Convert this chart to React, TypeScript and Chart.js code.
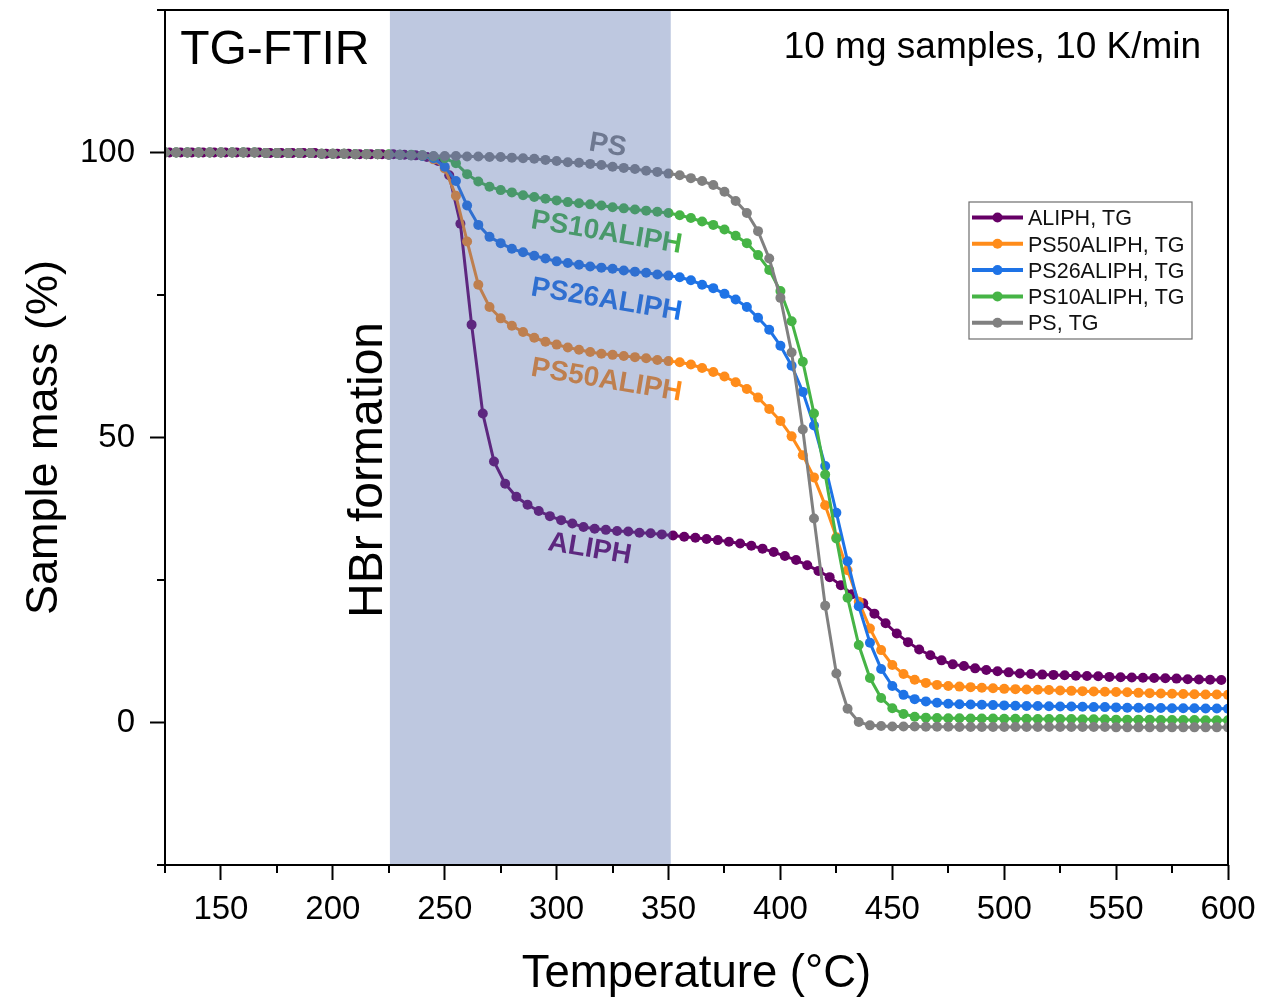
import React, { useEffect, useRef } from 'react';
import { Chart, registerables } from 'chart.js';

Chart.register(...registerables);

// ---------- data ----------
const TEMPS = [
  125, 130, 135, 140, 145, 150, 155, 160, 165, 170,
  175, 180, 185, 190, 195, 200, 205, 210, 215, 220,
  225, 230, 235, 240, 245, 250, 255, 260, 265, 270,
  275, 280, 285, 290, 295, 300, 305, 310, 315, 320,
  325, 330, 335, 340, 345, 350, 355, 360, 365, 370,
  375, 380, 385, 390, 395, 400, 405, 410, 415, 420,
  425, 430, 435, 440, 445, 450, 455, 460, 465, 470,
  475, 480, 485, 490, 495, 500, 505, 510, 515, 520,
  525, 530, 535, 540, 545, 550, 555, 560, 565, 570,
  575, 580, 585, 590, 595, 600,
];

const ALIPH_TEMPS = [
  127, 132, 137, 142, 147, 152, 157, 162, 167, 172,
  177, 182, 187, 192, 197, 202, 207, 212, 217, 222,
  227, 232, 237, 242, 247, 252, 257, 262, 267, 272,
  277, 282, 287, 292, 297, 302, 307, 312, 317, 322,
  327, 332, 337, 342, 347, 352, 357, 362, 367, 372,
  377, 382, 387, 392, 397, 402, 407, 412, 417, 422,
  427, 432, 437, 442, 447, 452, 457, 462, 467, 472,
  477, 482, 487, 492, 497, 502, 507, 512, 517, 522,
  527, 532, 537, 542, 547, 552, 557, 562, 567, 572,
  577, 582, 587, 592, 597,
];

const ALIPH = [
  100, 100, 100, 100, 100, 100, 100, 100, 100, 99.9,
  99.9, 99.9, 99.9, 99.9, 99.8, 99.8, 99.8, 99.7, 99.7, 99.7,
  99.7, 99.6, 99.5, 99.2, 98.5, 96.0, 87.5, 69.8, 54.2, 45.8,
  41.9, 39.6, 38.2, 37.1, 36.2, 35.5, 34.9, 34.3, 34.0, 33.8,
  33.6, 33.5, 33.3, 33.2, 33.0, 32.8, 32.6, 32.4, 32.2, 32.0,
  31.7, 31.4, 31.0, 30.5, 29.9, 29.2, 28.5, 27.6, 26.6, 25.5,
  24.1, 22.5, 20.9, 19.1, 17.4, 15.6, 14.1, 12.8, 11.8, 10.9,
  10.2, 9.9, 9.5, 9.2, 9.0, 8.8, 8.6, 8.5, 8.4, 8.35,
  8.3, 8.2, 8.15, 8.1, 8.0, 7.95, 7.9, 7.85, 7.8, 7.75,
  7.7, 7.6, 7.55, 7.5, 7.45,
];

const PS50ALIPH = [
  100, 100, 100, 100, 100, 100, 100, 100, 100, 99.9,
  99.9, 99.9, 99.9, 99.9, 99.8, 99.8, 99.8, 99.7, 99.7, 99.7,
  99.6, 99.6, 99.5, 99.4, 98.8, 97.2, 92.4, 84.4, 76.8, 72.9,
  70.9, 69.6, 68.5, 67.5, 66.8, 66.3, 65.8, 65.4, 65.0, 64.7,
  64.5, 64.3, 64.1, 63.9, 63.6, 63.4, 63.2, 62.8, 62.2, 61.5,
  60.7, 59.7, 58.5, 57.0, 55.0, 52.9, 50.2, 46.9, 43.0, 38.1,
  32.5, 26.7, 21.2, 16.5, 12.7, 10.1, 8.5, 7.5, 6.95, 6.6,
  6.4, 6.3, 6.2, 6.1, 6.0, 5.9, 5.85, 5.8, 5.75, 5.7,
  5.6, 5.55, 5.5, 5.45, 5.4, 5.35, 5.3, 5.2, 5.15, 5.1,
  5.05, 5.0, 4.95, 4.9, 4.9, 4.85,
];

const PS26ALIPH = [
  100, 100, 100, 100, 100, 100, 100, 100, 100, 99.9,
  99.9, 99.9, 99.9, 99.9, 99.8, 99.8, 99.8, 99.7, 99.7, 99.7,
  99.6, 99.6, 99.5, 99.4, 99.0, 97.5, 95.0, 90.7, 87.3, 85.2,
  84.1, 83.1, 82.5, 81.9, 81.4, 80.9, 80.6, 80.3, 80.0, 79.8,
  79.6, 79.3, 79.1, 78.9, 78.6, 78.4, 78.1, 77.6, 76.8, 76.2,
  75.2, 74.2, 72.9, 71.0, 68.9, 66.1, 62.6, 58.0, 52.1, 45.0,
  36.8, 28.3, 20.4, 14.0, 9.4, 6.4, 4.85, 4.1, 3.7, 3.45,
  3.3, 3.2, 3.15, 3.1, 3.05, 3.0, 2.95, 2.9, 2.9, 2.85,
  2.8, 2.8, 2.75, 2.7, 2.7, 2.65, 2.6, 2.6, 2.55, 2.55,
  2.5, 2.5, 2.5, 2.45, 2.45, 2.4,
];

const PS10ALIPH = [
  100, 100, 100, 100, 100, 100, 100, 100, 100, 99.9,
  99.9, 99.9, 99.9, 99.9, 99.8, 99.8, 99.8, 99.7, 99.7, 99.7,
  99.7, 99.6, 99.6, 99.5, 99.3, 99.0, 98.1, 96.2, 94.9, 94.0,
  93.4, 93.0, 92.5, 92.2, 91.9, 91.6, 91.3, 91.1, 90.9, 90.7,
  90.4, 90.2, 90.0, 89.8, 89.6, 89.4, 89.0, 88.5, 87.9, 87.3,
  86.5, 85.4, 84.1, 82.0, 79.4, 75.7, 70.4, 63.3, 54.2, 43.5,
  32.3, 21.9, 13.6, 7.8, 4.3, 2.5, 1.5, 1.0, 0.85, 0.8,
  0.75, 0.75, 0.7, 0.7, 0.7, 0.65, 0.65, 0.65, 0.6, 0.6,
  0.6, 0.6, 0.55, 0.55, 0.55, 0.5, 0.5, 0.5, 0.5, 0.45,
  0.45, 0.45, 0.45, 0.4, 0.4, 0.4,
];

const PS = [
  100, 100, 100, 100, 100, 100, 100, 100, 100, 99.9,
  99.9, 99.9, 99.9, 99.9, 99.8, 99.8, 99.8, 99.7, 99.7, 99.7,
  99.6, 99.6, 99.5, 99.5, 99.4, 99.4, 99.4, 99.3, 99.3, 99.2,
  99.2, 99.1, 99.0, 98.9, 98.7, 98.5, 98.3, 98.2, 98.0, 97.8,
  97.5, 97.3, 97.1, 96.8, 96.6, 96.3, 96.0, 95.5, 95.0, 94.3,
  93.1, 91.5, 89.4, 86.2, 81.4, 74.5, 64.9, 51.4, 35.8, 20.5,
  8.6, 2.4, 0.1, -0.5, -0.6, -0.7, -0.7, -0.7, -0.75, -0.75,
  -0.75, -0.8, -0.8, -0.8, -0.8, -0.8, -0.8, -0.8, -0.8, -0.8,
  -0.8, -0.8, -0.8, -0.8, -0.8, -0.85, -0.85, -0.85, -0.85, -0.85,
  -0.85, -0.85, -0.85, -0.85, -0.85, -0.85,
];

const LEGEND_LABELS = ['ALIPH, TG', 'PS50ALIPH, TG', 'PS26ALIPH, TG', 'PS10ALIPH, TG', 'PS, TG'];
const CURVE_NAMES = ['ALIPH', 'PS50ALIPH', 'PS26ALIPH', 'PS10ALIPH', 'PS'];
const COLORS = ['#660066', '#ff8c1a', '#1e73e6', '#46b446', '#808080'];

const X_MIN = 125;
const X_MAX = 600;
const X_STEP = 25;
const X_MAJOR = 50;
const Y_MIN = -25;
const Y_MAX = 125;
const Y_STEP = 25;
const Y_MAJOR = 50;

const HBR_RANGE = [225.5, 351];

// annotation anchors (data coordinates)
const CURVE_LABEL_POS = [
  { x: 315, y: 30.8 },
  { x: 322.5, y: 60.4 },
  { x: 322.5, y: 74.5 },
  { x: 322.5, y: 86.3 },
  { x: 323, y: 101.6 },
];

const FONT = '"Liberation Sans", Arial, Helvetica, sans-serif';

const decorPlugin = {
  id: 'decor',
  afterDatasetsDraw(chart: any) {
    const { ctx, chartArea: a, scales } = chart;
    const xs = scales.x;
    const ys = scales.y;
    ctx.save();

    // curve labels (drawn under the shaded band)
    const angle = (9.5 * Math.PI) / 180;
    const lf = 28;
    ctx.font = `bold ${lf}px ${FONT}`;
    ctx.textAlign = 'center';
    ctx.textBaseline = 'alphabetic';
    CURVE_NAMES.forEach((name, i) => {
      const p = CURVE_LABEL_POS[i];
      ctx.save();
      ctx.translate(xs.getPixelForValue(p.x), ys.getPixelForValue(p.y));
      ctx.rotate(angle);
      ctx.fillStyle = COLORS[i];
      ctx.fillText(name, 0, lf * 0.36);
      ctx.restore();
    });

    // HBr formation band
    const bx0 = xs.getPixelForValue(HBR_RANGE[0]);
    const bx1 = xs.getPixelForValue(HBR_RANGE[1]);
    ctx.fillStyle = 'rgba(79,106,171,0.37)';
    ctx.fillRect(bx0, a.top, bx1 - bx0, a.bottom - a.top);

    // HBr formation text
    ctx.save();
    ctx.translate(xs.getPixelForValue(221.8), ys.getPixelForValue(44.3));
    ctx.rotate(-Math.PI / 2);
    ctx.font = `48px ${FONT}`;
    ctx.fillStyle = '#000';
    ctx.textAlign = 'center';
    ctx.textBaseline = 'alphabetic';
    ctx.fillText('HBr formation', 0, 0);
    ctx.restore();

    // corner texts
    ctx.fillStyle = '#000';
    ctx.font = `48px ${FONT}`;
    ctx.textAlign = 'left';
    ctx.textBaseline = 'alphabetic';
    ctx.fillText('TG-FTIR', xs.getPixelForValue(131.8), ys.getPixelForValue(115.5));
    ctx.font = `37px ${FONT}`;
    ctx.textAlign = 'right';
    ctx.fillText('10 mg samples, 10 K/min', xs.getPixelForValue(588), ys.getPixelForValue(116.6));

    // frame
    ctx.strokeStyle = '#000';
    ctx.lineWidth = 2;
    ctx.strokeRect(a.left, a.top, a.right - a.left, a.bottom - a.top);

    // minor ticks
    ctx.lineWidth = 2;
    ctx.beginPath();
    xs.ticks.forEach((t: any) => {
      if (t.value % X_MAJOR !== 0) {
        const px = Math.round(xs.getPixelForValue(t.value));
        ctx.moveTo(px, a.bottom);
        ctx.lineTo(px, a.bottom + 8);
      }
    });
    ys.ticks.forEach((t: any) => {
      if (t.value % Y_MAJOR !== 0) {
        const py = Math.round(ys.getPixelForValue(t.value));
        ctx.moveTo(a.left, py);
        ctx.lineTo(a.left - 8, py);
      }
    });
    ctx.stroke();

    // legend
    const lx = a.right - 259;
    const ly = a.top + 192;
    const lw = 223;
    const lh = 137;
    ctx.fillStyle = '#fff';
    ctx.fillRect(lx, ly, lw, lh);
    ctx.strokeStyle = '#6e6e6e';
    ctx.lineWidth = 1.2;
    ctx.strokeRect(lx, ly, lw, lh);
    ctx.font = `21.5px ${FONT}`;
    ctx.textAlign = 'left';
    ctx.textBaseline = 'alphabetic';
    chart.data.datasets.forEach((ds: any, i: number) => {
      const ry = ly + 15.5 + i * 26.3;
      ctx.strokeStyle = ds.borderColor;
      ctx.lineWidth = 4;
      ctx.beginPath();
      ctx.moveTo(lx + 3, ry);
      ctx.lineTo(lx + 54, ry);
      ctx.stroke();
      ctx.fillStyle = ds.borderColor;
      ctx.beginPath();
      ctx.arc(lx + 28.5, ry, 5, 0, Math.PI * 2);
      ctx.fill();
      ctx.fillStyle = '#111';
      ctx.fillText(ds.label, lx + 59, ry + 21.5 * 0.36);
    });

    ctx.restore();
  },
};

export default function App() {
  const ref = useRef<HTMLCanvasElement | null>(null);

  useEffect(() => {
    const canvas = ref.current;
    if (!canvas) return;
    const seriesValues = [ALIPH, PS50ALIPH, PS26ALIPH, PS10ALIPH, PS];
    const seriesTemps = [ALIPH_TEMPS, TEMPS, TEMPS, TEMPS, TEMPS];
    const datasets = seriesValues.map((vals, i) => ({
      label: LEGEND_LABELS[i],
      data: seriesTemps[i].map((t, j) => ({ x: t, y: vals[j] })),
      borderColor: COLORS[i],
      backgroundColor: COLORS[i],
      pointBackgroundColor: COLORS[i],
      pointBorderWidth: 0,
      pointRadius: 5,
      borderWidth: 3,
      tension: 0,
      fill: false,
      order: 5 - i,
    }));

    const chart = new Chart(canvas, {
      type: 'line',
      data: { datasets },
      options: {
        responsive: false,
        animation: false,
        events: [],
        layout: { padding: { left: 0, right: 43, top: 10, bottom: 0 } },
        plugins: {
          legend: { display: false },
          tooltip: { enabled: false },
          title: { display: false },
        },
        scales: {
          x: {
            type: 'linear',
            min: X_MIN,
            max: X_MAX,
            border: { display: false },
            grid: {
              drawOnChartArea: false,
              drawTicks: true,
              tickLength: 15,
              tickWidth: 2,
              tickColor: (c: any) =>
                c.tick && c.tick.value % X_MAJOR === 0 ? '#000' : 'rgba(0,0,0,0)',
            },
            ticks: {
              stepSize: X_STEP,
              autoSkip: false,
              maxRotation: 0,
              padding: 10,
              color: '#000',
              font: { family: FONT, size: 33, lineHeight: 1.2 },
              callback: (v: any) => (Number(v) % X_MAJOR === 0 ? String(v) : ''),
            },
            title: {
              display: true,
              text: 'Temperature (°C)',
              color: '#000',
              font: { family: FONT, size: 45.5, lineHeight: 1 },
              padding: { top: 0, bottom: 0 },
            },
            afterFit: (s: any) => {
              s.height = 132;
              s.paddingLeft = 0;
              s.paddingRight = 0;
            },
          },
          y: {
            type: 'linear',
            min: Y_MIN,
            max: Y_MAX,
            border: { display: false },
            grid: {
              drawOnChartArea: false,
              drawTicks: true,
              tickLength: 15,
              tickWidth: 2,
              tickColor: (c: any) =>
                c.tick && c.tick.value % Y_MAJOR === 0 ? '#000' : 'rgba(0,0,0,0)',
            },
            ticks: {
              stepSize: Y_STEP,
              autoSkip: false,
              padding: 15,
              color: '#000',
              font: { family: FONT, size: 33, lineHeight: 1.2 },
              callback: (v: any) => (Number(v) % Y_MAJOR === 0 ? String(v) : ''),
            },
            title: {
              display: true,
              text: 'Sample mass (%)',
              color: '#000',
              font: { family: FONT, size: 45, lineHeight: 1 },
              padding: { top: 22, bottom: 0 },
            },
            afterFit: (s: any) => {
              s.width = 165;
              s.paddingTop = 0;
              s.paddingBottom = 0;
            },
          },
        },
      },
      plugins: [decorPlugin],
    } as any);

    return () => chart.destroy();
  }, []);

  return (
    <canvas
      ref={ref}
      width={1271}
      height={997}
      style={{ position: 'fixed', left: 0, top: 0, display: 'block', background: '#fff' }}
    />
  );
}
